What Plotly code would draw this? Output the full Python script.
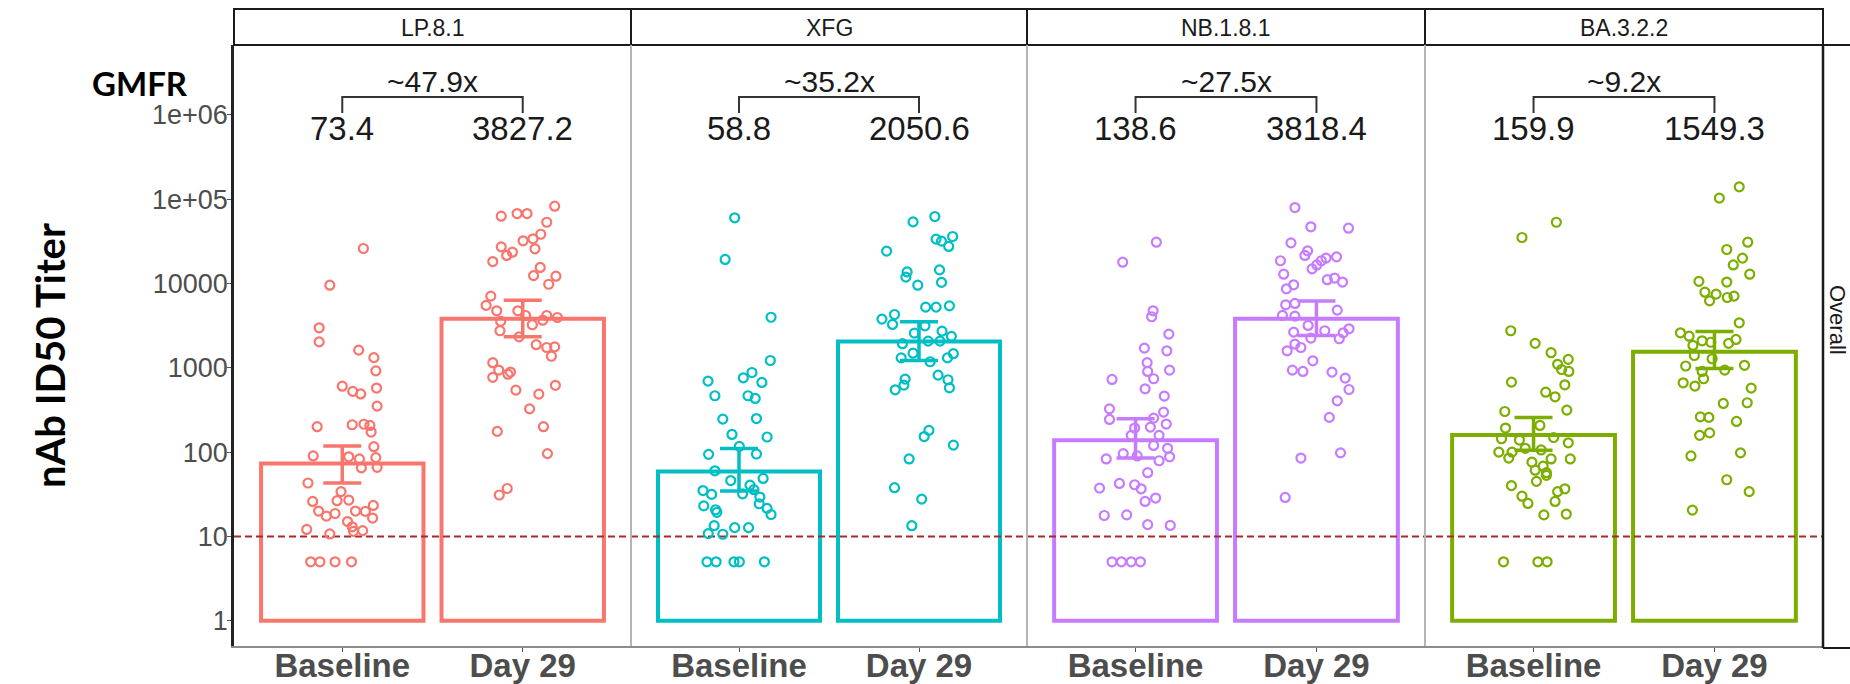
import plotly.graph_objects as go

# ---------------------------------------------------------------- data
variants = ["LP.8.1", "XFG", "NB.1.8.1", "BA.3.2.2"]
timepoints = ["Baseline", "Day 29"]
colors = ["#F8766D", "#00BFC4", "#C77CFF", "#7CAE00"]

# geometric mean titers and 95% CI
gmt_baseline = [73.4, 58.8, 138.6, 159.9]
gmt_day29 = [3827.2, 2050.6, 3818.4, 1549.3]
ci_low_baseline = [43, 34.5, 85, 105]
ci_high_baseline = [118, 110, 248, 258]
ci_low_day29 = [2330, 1220, 2420, 980]
ci_high_day29 = [6340, 3510, 6220, 2700]
gmfr = [47.9, 35.2, 27.5, 9.2]

y_tick_vals = [1, 10, 100, 1000, 10000, 100000, 1000000]
y_tick_text = ["1", "10", "100", "1000", "10000", "1e+05", "1e+06"]
lloq = 10

# individual ID50 titers and their horizontal jitter (category units)
lp81_baseline = [26000, 9550, 2980, 2030, 1620, 1320, 920, 605, 525, 490, 575, 351, 200, 211, 214, 207,
                 173, 116, 90, 88, 83, 86, 65, 66, 43, 34, 26, 26.5, 27, 23.3, 20, 17.4, 18.7, 20, 19.8,
                 16.5, 15, 13, 12.1, 10.7, 11.5, 11.7, 5, 5, 5, 5]
lp81_baseline_jitter = [0.117, -0.069, -0.128, -0.128, 0.091, 0.175, 0.186, 0.0, 0.058, 0.102, 0.190, 0.193,
                        -0.139, 0.055, 0.12, 0.153, 0.16, 0.175, -0.161, 0.036, 0.095, 0.186, 0.106, 0.193,
                        -0.190, -0.007, -0.164, -0.029, 0.036, 0.172, -0.131, -0.088, -0.04, 0.073, 0.128,
                        0.168, 0.029, 0.055, -0.197, -0.069, 0.062, 0.113, -0.175, -0.124, -0.04, 0.051]
lp81_day29 = [82600, 62800, 67600, 67600, 53300, 38400, 32100, 33900, 25800, 27200, 21500, 23500, 18200,
              15500, 12400, 12200, 9800, 7080, 5500, 4740, 4740, 4170, 4170, 3950, 3670, 3550, 3240, 2750,
              2330, 1880, 1740, 1770, 1370, 1150, 940, 890, 770, 840, 620, 543, 487, 326, 176, 200, 96, 37, 31]
lp81_day29_jitter = [0.177, -0.119, -0.031, 0.024, 0.133, 0.100, 0.002, 0.057, 0.068, -0.119, -0.089, -0.057,
                     -0.166, 0.097, 0.060, 0.184, 0.144, -0.177, -0.203, -0.144, -0.027, 0.016, 0.133, 0.192,
                     0.111, -0.122, 0.053, -0.126, -0.020, 0.075, 0.133, 0.177, 0.159, -0.166, -0.133, -0.068,
                     -0.166, -0.082, 0.181, -0.038, 0.089, 0.038, -0.141, 0.115, 0.137, -0.086, -0.130]

xfg_baseline = [60100, 19300, 3980, 1220, 695, 761, 880, 670, 466, 466, 433, 246, 250, 162, 151, 94, 95, 117,
                60, 46, 48.7, 40.6, 35.8, 35, 31.5, 32, 29.3, 23, 20.7, 19.3, 24.4, 21.5, 18.2, 13.4, 12.7,
                12.7, 10.8, 10.6, 5, 5, 5, 5, 5]
xfg_baseline_jitter = [-0.024, -0.077, 0.178, 0.174, -0.172, 0.024, 0.072, 0.127, -0.134, 0.05, 0.09, -0.09,
                       0.097, -0.039, 0.156, -0.169, 0.097, 0.002, -0.134, -0.046, 0.134, 0.061, 0.083, -0.2,
                       -0.152, 0.02, 0.116, -0.196, -0.13, -0.123, 0.112, 0.156, 0.178, -0.138, -0.024, 0.053,
                       -0.171, -0.09, -0.178, -0.127, -0.028, 0.002, 0.141]
xfg_day29 = [62200, 53800, 36100, 33600, 31800, 27500, 24200, 14500, 13700, 11900, 10300, 9550, 5430, 5240,
             5240, 4290, 3780, 3270, 3150, 2580, 2720, 2360, 2070, 1930, 2070, 1490, 1470, 1310, 1310, 1180,
             818, 734, 623, 548, 721, 579, 181, 153, 121, 83, 37.8, 27.7, 13.4]
xfg_day29_jitter = [0.088, -0.033, 0.187, 0.095, 0.125, 0.165, -0.18, 0.114, -0.066, -0.073, 0.125, -0.007,
                    0.169, 0.037, 0.095, -0.136, -0.206, -0.147, 0.033, -0.026, 0.128, 0.18, 0.051, -0.092,
                    0.117, -0.033, 0.191, 0.158, -0.099, 0.062, 0.106, -0.077, -0.084, -0.132, 0.161, 0.169,
                    0.055, 0.029, 0.191, -0.055, -0.136, 0.015, -0.04]

nb181_baseline = [30900, 17900, 4740, 4030, 2510, 1710, 1590, 1150, 905, 938, 741, 728, 563, 461, 326, 298,
                  244, 253, 215, 193, 198, 158, 158, 120, 111, 96, 83, 88, 79, 90, 57, 42.5, 37.4, 41, 36.7,
                  28.5, 26, 17.7, 18, 13.8, 13.5, 5, 5, 5, 5]
nb181_baseline_jitter = [0.115, -0.071, 0.097, 0.089, 0.184, 0.049, 0.173, 0.064, 0.067, 0.188, 0.1, -0.13,
                         0.053, 0.159, -0.144, 0.155, -0.144, 0.1, 0.17, -0.005, 0.082, 0.13, -0.024, 0.1,
                         0.177, -0.068, -0.162, 0.188, 0.13, 0.009, 0.067, -0.089, -0.199, -0.005, 0.031,
                         0.111, 0.053, -0.173, -0.049, 0.067, 0.192, -0.13, -0.078, -0.024, 0.027]
nb181_day29 = [79600, 47000, 45300, 30300, 24400, 21500, 20700, 18600, 20000, 18600, 16600, 14900, 12900,
               11100, 11600, 10400, 9650, 8650, 5800, 5590, 4830, 4180, 4100, 3180, 2650, 2750, 2900, 2600,
               2250, 2210, 1910, 1740, 1590, 1210, 938, 905, 889, 754, 553, 406, 258, 98, 85, 29]
nb181_day29_jitter = [-0.119, -0.031, 0.177, -0.141, -0.049, -0.064, 0.111, 0.027, 0.053, -0.199, 0.002,
                      -0.024, -0.181, 0.06, 0.1, 0.144, -0.126, -0.166, -0.119, -0.17, 0.115, -0.188, -0.119,
                      -0.046, -0.126, 0.046, 0.18, 0.148, -0.031, 0.126, -0.119, -0.086, -0.162, -0.02,
                      -0.133, -0.075, 0.086, 0.159, 0.18, 0.115, 0.071, 0.133, -0.086, -0.173]

ba322_baseline = [53300, 35100, 2750, 1950, 1510, 1260, 1100, 955, 905, 628, 676, 514, 453, 315, 303, 207,
                  193, 144, 139, 149, 129, 111, 100, 100, 85, 106, 83, 83, 76, 68, 61, 57, 53, 45, 40, 34,
                  36.7, 30, 24.6, 26, 18, 18.4, 5, 5, 5]
ba322_baseline_jitter = [0.126, -0.064, -0.126, 0.009, 0.097, 0.192, 0.133, 0.155, 0.195, 0.173, -0.122,
                         0.067, 0.119, 0.184, -0.159, 0.035, -0.155, -0.177, -0.078, 0.111, 0.192, -0.046,
                         -0.192, -0.119, -0.137, 0.042, 0.097, 0.203, -0.009, 0.053, 0.009, 0.071, 0.071,
                         0.016, -0.122, 0.133, 0.173, -0.064, -0.031, 0.119, 0.057, 0.181, -0.166, 0.024, 0.075]
ba322_day29 = [140000, 103000, 30900, 25300, 20000, 16600, 12900, 10600, 10400, 7890, 7480, 6230, 6820, 7080,
               3420, 2600, 2370, 2090, 2010, 1840, 2170, 1950, 1280, 1400, 1050, 1070, 905, 938, 664, 607,
               741, 574, 385, 378, 262, 258, 231, 158, 169, 90, 98, 47, 34, 20.5]
ba322_day29_jitter = [0.137, 0.027, 0.184, 0.068, 0.155, 0.104, 0.195, -0.086, 0.068, -0.053, 0.009, -0.027,
                      0.071, 0.108, 0.137, -0.188, -0.14, -0.068, -0.02, -0.119, 0.119, 0.078, -0.013, -0.111,
                      -0.159, 0.166, -0.068, 0.057, -0.173, -0.108, -0.06, 0.203, 0.181, 0.049, -0.078, -0.031,
                      0.122, -0.082, -0.027, -0.13, 0.144, 0.068, 0.192, -0.122]

individual = [
    ((lp81_baseline, lp81_baseline_jitter), (lp81_day29, lp81_day29_jitter)),
    ((xfg_baseline, xfg_baseline_jitter), (xfg_day29, xfg_day29_jitter)),
    ((nb181_baseline, nb181_baseline_jitter), (nb181_day29, nb181_day29_jitter)),
    ((ba322_baseline, ba322_baseline_jitter), (ba322_day29, ba322_day29_jitter)),
]

# ---------------------------------------------------------------- layout geometry (pixels)
W, H = 1850, 684
panel_edges = [234, 631, 1027, 1425, 1823]
strip_top, strip_bottom, plot_bottom = 9, 45, 646
y_log_range = [-0.300, 6.829]

TICK_FONT = "Liberation Sans, Arial, sans-serif"
TITLE_FONT = "Lato, 'Open Sans', sans-serif"


def px(x):
    return x / W


def py(y):
    return 1 - y / H


def label(text, x, y, size, xref="paper", color="#1a1a1a", family=TICK_FONT, weight="normal", angle=0):
    return dict(text=text, xref=xref, yref="paper", x=x, y=y, xanchor="center", yanchor="middle",
                showarrow=False, textangle=angle,
                font=dict(family=family, size=size, color=color, weight=weight))


fig = go.Figure()
layout_axes = {}
shapes = []
annotations = []

for i, variant in enumerate(variants):
    n = "" if i == 0 else str(i + 1)
    xa, ya = "x" + n, "y" + n
    c = colors[i]
    gm = [gmt_baseline[i], gmt_day29[i]]
    lo = [ci_low_baseline[i], ci_low_day29[i]]
    hi = [ci_high_baseline[i], ci_high_day29[i]]

    # hollow GMT bars starting at a titer of 1
    fig.add_trace(go.Bar(
        x=[1, 2], y=[v - 1 for v in gm], base=1, width=0.9,
        marker=dict(color="rgba(255,255,255,0)", line=dict(color=c, width=4)),
        xaxis=xa, yaxis=ya, showlegend=False, hoverinfo="skip"))

    # limit of quantification
    fig.add_trace(go.Scatter(
        x=[0.4, 2.6], y=[lloq, lloq], mode="lines",
        line=dict(color="#A52A2A", width=2, dash="7px,4px"),
        xaxis=xa, yaxis=ya, showlegend=False, hoverinfo="skip"))

    # individual participants
    for k, (titers, jitter) in enumerate(individual[i]):
        if len(titers) != len(jitter):
            raise ValueError(f"{variant} {timepoints[k]}: titers and jitter differ in length")
        fig.add_trace(go.Scatter(
            x=[k + 1 + j for j in jitter], y=titers, mode="markers",
            marker=dict(symbol="circle-open", size=9, color=c, line=dict(width=2.2, color=c)),
            xaxis=xa, yaxis=ya, showlegend=False,
            name=f"{variant} {timepoints[k]}"))

    # 95% confidence intervals of the GMT
    fig.add_trace(go.Scatter(
        x=[1, 2], y=gm, mode="markers", marker=dict(size=1, color=c),
        error_y=dict(type="data", symmetric=False,
                     array=[h - g for h, g in zip(hi, gm)],
                     arrayminus=[g - l for g, l in zip(gm, lo)],
                     color=c, thickness=3.5, width=19),
        xaxis=xa, yaxis=ya, showlegend=False, hoverinfo="skip"))

    layout_axes["xaxis" + n] = dict(
        domain=[px(panel_edges[i]), px(panel_edges[i + 1])], range=[0.4, 2.6], anchor=ya,
        tickvals=[1, 2], ticktext=timepoints, ticks="outside", ticklen=4, tickcolor="#555",
        ticklabelstandoff=-14,
        tickfont=dict(family=TICK_FONT, size=33, color="#4d4d4d", weight="bold"),
        showline=True, linecolor="#8c8c8c", linewidth=1.5, showgrid=False, zeroline=False,
        automargin=False, fixedrange=True)
    yax = dict(
        domain=[py(plot_bottom), py(strip_bottom)], type="log", range=y_log_range, anchor=xa,
        showgrid=False, zeroline=False, automargin=False, fixedrange=True)
    if i == 0:
        yax.update(tickvals=y_tick_vals, ticktext=y_tick_text, ticks="outside", ticklen=4,
                   tickcolor="#555", showline=True, linecolor="#222", linewidth=2.5,
                   ticklabelstandoff=-6,
                   tickfont=dict(family=TICK_FONT, size=27, color="#4d4d4d"))
    else:
        yax.update(showticklabels=False, ticks="", showline=False)
    layout_axes["yaxis" + n] = yax

    # facet strip
    shapes.append(dict(type="rect", xref="paper", yref="paper",
                       x0=px(panel_edges[i]), x1=px(panel_edges[i + 1]),
                       y0=py(strip_bottom), y1=py(strip_top),
                       line=dict(color="#1a1a1a", width=2), fillcolor="white"))
    annotations.append(label(variant, px((panel_edges[i] + panel_edges[i + 1]) / 2),
                             py((strip_top + strip_bottom) / 2 + 1), 23))

    # GMT values and fold-rise bracket
    for k in range(2):
        annotations.append(label(f"{gm[k]:.1f}", k + 1, py(128), 33, xref=xa))
    annotations.append(label(f"~{gmfr[i]:.1f}x", 1.5, py(81), 30, xref=xa))
    shapes.append(dict(type="path", xref=xa, yref="paper",
                       path=f"M 1,{py(113)} L 1,{py(97)} L 2,{py(97)} L 2,{py(113)}",
                       line=dict(color="#333", width=2)))

# panel separators and outer frame
for e in panel_edges[1:-1]:
    shapes.append(dict(type="line", xref="paper", yref="paper", x0=px(e), x1=px(e),
                       y0=py(plot_bottom), y1=py(strip_bottom), line=dict(color="#b5b5b5", width=2)))
shapes.append(dict(type="line", xref="paper", yref="paper", x0=px(panel_edges[-1]), x1=px(panel_edges[-1]),
                   y0=py(plot_bottom + 2), y1=py(strip_bottom), line=dict(color="#1a1a1a", width=2.5)))
for yy in (strip_bottom, plot_bottom + 2):
    shapes.append(dict(type="line", xref="paper", yref="paper", x0=px(panel_edges[-1]), x1=1,
                       y0=py(yy), y1=py(yy), line=dict(color="#1a1a1a", width=2)))

annotations += [
    label("Overall", px(1838), py(320), 22, angle=90),
    label("nAb ID50 Titer", px(50), py(356), 40, color="black", family=TITLE_FONT, weight="bold", angle=-90),
    label("GMFR", px(140), py(83), 33, color="black", family=TITLE_FONT, weight="bold"),
]

fig.update_layout(
    width=W, height=H, margin=dict(l=0, r=0, t=0, b=0, autoexpand=False),
    paper_bgcolor="white", plot_bgcolor="white",
    barmode="overlay", showlegend=False,
    shapes=shapes, annotations=annotations, **layout_axes)

fig.write_html("out.html", config={"displayModeBar": False})
